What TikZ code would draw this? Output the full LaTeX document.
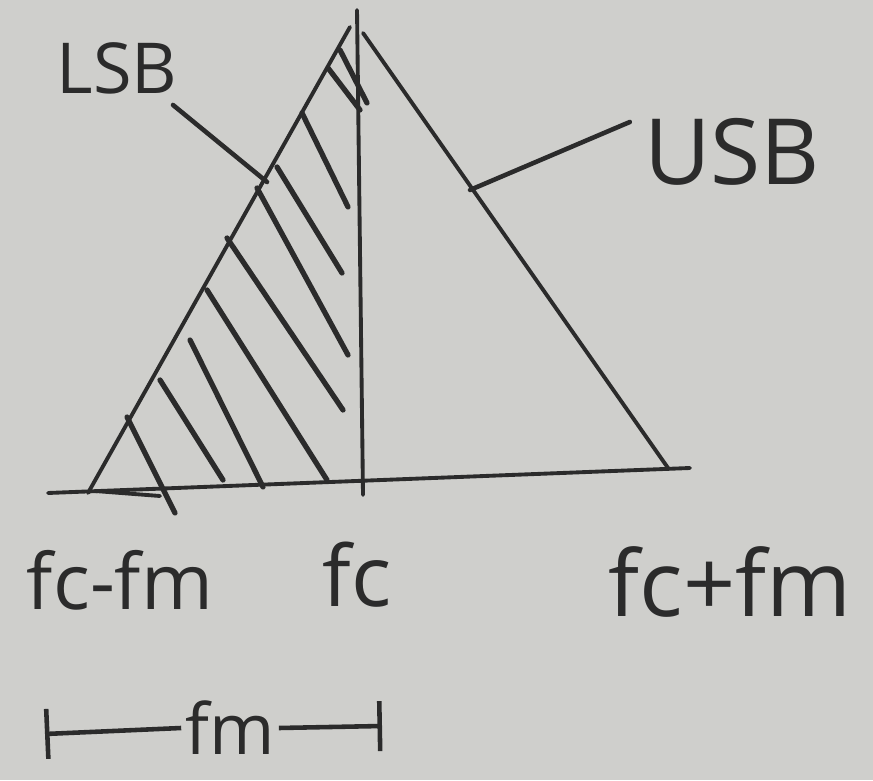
\documentclass[tikz,border=0pt]{standalone}
\usepackage{fontspec}
\setsansfont{Open Sans}
\usetikzlibrary{arrows.meta,positioning}
\definecolor{skPaper}{HTML}{CFCFCC}
\definecolor{skInk}{HTML}{2B2B2B}
\tikzset{
  edge/.style={draw=skInk, line width=1.1pt, line cap=round},
  hatch/.style={draw=skInk, line width=1.5pt, line cap=round},
  lead/.style={draw=skInk, line width=1.3pt, line cap=round},
  lbl/.style={text=skInk, inner sep=1pt, font=\sffamily\fontsize{22}{26}\selectfont},
  span/.style={draw=skInk, line width=1.3pt},
}
\begin{document}
\begin{tikzpicture}
        \fill[skPaper] (0,0) rectangle (8.73,7.80);
        \useasboundingbox (0,0) rectangle (8.73,7.80);
        % triangle corners
        \coordinate (bl) at (0.48,2.87);
        \coordinate (br) at (6.90,3.12);
        \coordinate (lv) at (0.88,2.87);
        \coordinate (ap) at (3.50,7.53);
        \coordinate (ar) at (3.63,7.47);
        \coordinate (rv) at (6.68,3.12);
        \coordinate (ct) at (3.57,7.70);
        \coordinate (cb) at (3.63,2.85);
        \draw[edge] (bl) -- (br);
        \draw[edge] (0.95,2.89) -- (1.60,2.84);
        \draw[edge] (lv) -- (ap);
        \draw[edge] (ar) -- (rv);
        \draw[edge] (ct) -- (cb);
        % hatching of the lower band
        \foreach \xa/\ya/\xb/\yb in {1.27/3.63/1.75/2.67, 1.60/4.00/2.23/3.00,
                                     1.90/4.40/2.63/2.93, 2.07/4.90/3.27/3.00,
                                     2.27/5.42/3.43/3.70, 2.57/5.92/3.48/4.25,
                                     2.77/6.13/3.42/5.07, 3.02/6.67/3.48/5.73,
                                     3.28/7.12/3.60/6.70, 3.40/7.30/3.67/6.77}{
          \draw[hatch] (\xa,\ya) -- (\xb,\yb);}
        % side band labels
        \node[lbl,font=\sffamily\fontsize{20}{24}\selectfont] (lsb) at (1.17,7.12) {LSB};
        \coordinate (lsbend) at (2.67,5.98);
        \draw[lead] (1.73,6.75) -- (lsbend);
        \node[lbl,font=\sffamily\fontsize{26}{30}\selectfont] (usb) at (7.32,6.28) {USB};
        \coordinate (usbend) at (4.70,5.90);
        \draw[lead] (usb.west) ++(-0.10,0.30) -- (usbend);
        % frequency axis labels
        \node[lbl] (lo) at (1.20,2.00) {fc-fm};
        \node[lbl,font=\sffamily\fontsize{24}{28}\selectfont] (mid) at (3.57,2.05) {fc};
        \node[lbl,font=\sffamily\fontsize{26}{30}\selectfont] (hi) at (7.30,1.98) {fc+fm};
        % width of one band
        \node[lbl,font=\sffamily\fontsize{20}{24}\selectfont] (fm) at (2.30,0.52) {fm};
        \coordinate (spl) at (0.45,0.46);
        \coordinate (spr) at (3.82,0.54);
        \draw[span,{Bar[width=5mm]}-] (spl) -- (fm.west);
        \draw[span,-{Bar[width=5mm]}] (fm.east) -- (spr);
\end{tikzpicture}
\end{document}
